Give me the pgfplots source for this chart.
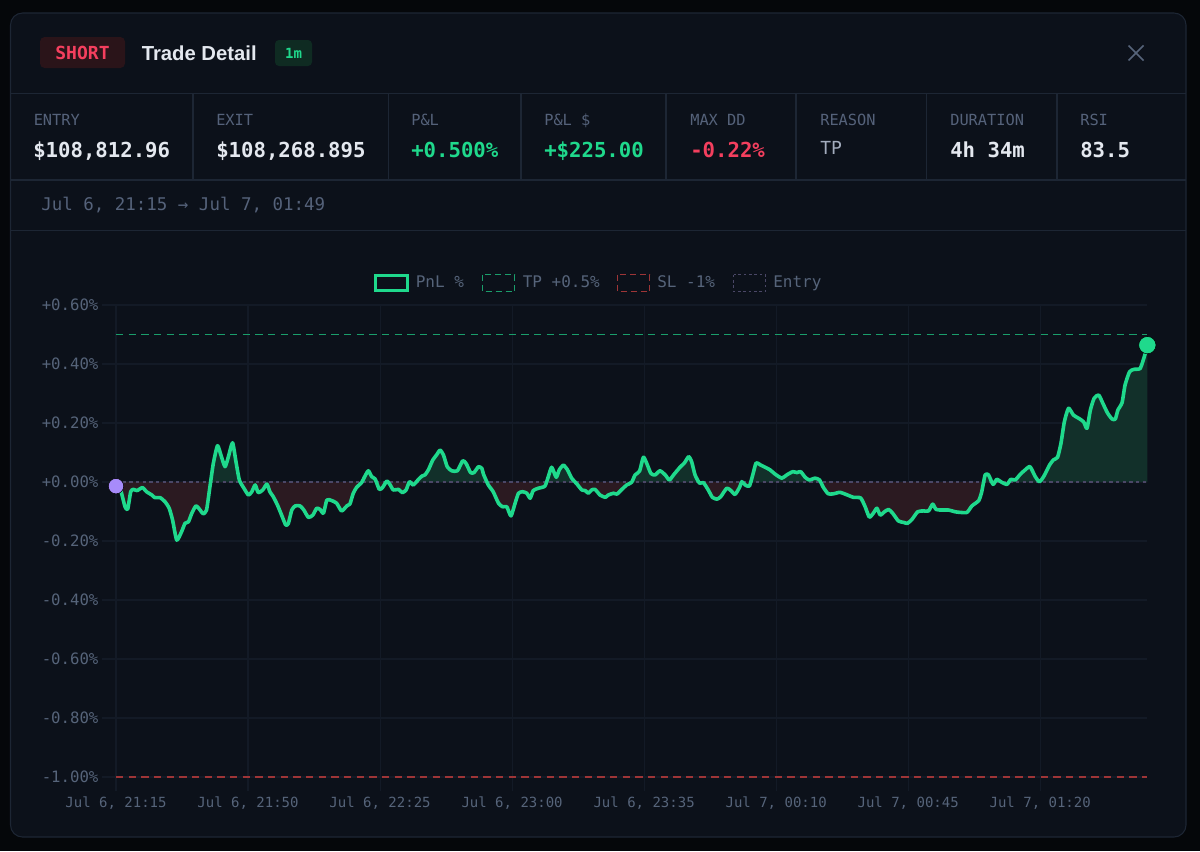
\documentclass[border=0pt]{standalone}
\usepackage{fontspec}
\setmainfont{Liberation Sans}
\setmonofont{DejaVu Sans Mono}
\usepackage{pgfplots}
\pgfplotsset{compat=1.18}
\usepackage{pgfplotstable}

\definecolor{pagebg}{HTML}{05070A}
\definecolor{cardbg}{HTML}{0C111A}
\definecolor{cardline}{HTML}{1D2634}
\definecolor{gridc}{HTML}{131A26}
\definecolor{mutetxt}{HTML}{56647A}
\definecolor{labeltxt}{HTML}{55627A}
\definecolor{valtxt}{HTML}{E4E8EF}
\definecolor{reasontxt}{HTML}{A3ACBD}
\definecolor{upgreen}{HTML}{1FD98C}
\definecolor{downred}{HTML}{F43F5E}
\definecolor{tpgreen}{HTML}{1A9E6B}
\definecolor{slred}{HTML}{9E3537}
\definecolor{entryc}{HTML}{4A4766}
\definecolor{fillup}{HTML}{12302A}
\definecolor{filldown}{HTML}{2B1A21}
\definecolor{entrydot}{HTML}{A78BFA}
\definecolor{badgered}{HTML}{2A1419}
\definecolor{badgegreen}{HTML}{0F2B22}

% minutes since entry, PnL in %
\pgfplotstableread{
m v
0 -0.014
1.2 -0.027
2.4 -0.084
3.1 -0.092
3.9 -0.033
4.6 -0.025
5.6 -0.029
7.0 -0.019
8.1 -0.033
9.5 -0.044
10.3 -0.053
11.7 -0.053
13.0 -0.067
14.1 -0.089
15.0 -0.129
16.1 -0.197
17.4 -0.168
18.3 -0.140
19.2 -0.135
20.1 -0.106
21.2 -0.081
22.3 -0.095
23.1 -0.108
24.0 -0.095
24.9 -0.016
25.8 0.063
26.9 0.123
27.8 0.092
28.9 0.052
29.8 0.086
30.9 0.133
31.8 0.069
32.7 0.007
33.9 -0.021
35.1 -0.044
36.0 -0.033
36.9 -0.010
37.7 -0.036
38.9 -0.027
40.0 -0.007
40.8 -0.033
41.7 -0.050
42.8 -0.078
43.9 -0.112
45.0 -0.146
45.7 -0.140
46.6 -0.095
47.5 -0.081
48.8 -0.081
49.8 -0.095
51.0 -0.120
52.2 -0.112
53.2 -0.089
54.1 -0.093
55.0 -0.106
55.9 -0.061
57.2 -0.063
58.5 -0.072
59.8 -0.098
61.2 -0.081
62.0 -0.075
62.9 -0.038
63.8 -0.018
65.1 -0.002
66.0 0.020
66.9 0.038
67.8 0.018
68.7 0.010
69.8 -0.025
70.7 -0.018
71.8 0.003
72.7 -0.010
73.5 -0.027
74.9 -0.025
75.9 -0.036
76.9 -0.027
77.8 0.001
78.8 -0.010
80.2 0.009
81.1 0.020
81.9 0.024
82.8 0.041
84.0 0.075
85.0 0.092
85.9 0.108
86.8 0.092
87.8 0.052
89.0 0.038
90.5 0.038
91.9 0.072
92.8 0.063
94.0 0.032
94.9 0.032
96.1 0.052
97.0 0.046
97.4 0.027
98.7 -0.010
100.0 -0.033
101.4 -0.072
102.5 -0.084
103.6 -0.084
104.7 -0.115
105.8 -0.072
106.7 -0.038
107.8 -0.033
108.9 -0.038
109.8 -0.055
110.6 -0.029
112.0 -0.021
113.7 -0.014
114.6 0.018
115.5 0.050
116.7 0.016
117.5 0.041
118.6 0.057
119.7 0.041
120.8 0.013
122.2 -0.007
123.5 -0.027
124.4 -0.029
125.2 -0.038
126.1 -0.027
127.0 -0.025
128.3 -0.044
129.7 -0.052
130.5 -0.044
131.9 -0.038
132.8 -0.041
134.1 -0.025
135.4 -0.010
136.7 -0.001
137.6 0.024
138.8 0.037
139.8 0.084
140.7 0.063
141.8 0.029
142.9 0.024
144.2 0.038
145.6 0.024
146.7 0.007
147.8 0.024
149.5 0.050
150.7 0.065
151.8 0.086
152.6 0.069
153.5 0.024
154.7 -0.004
155.7 -0.002
157.0 -0.027
158.1 -0.052
159.3 -0.058
160.3 -0.050
161.9 -0.021
163.0 -0.029
164.1 -0.042
165.3 -0.018
165.9 0.001
166.8 -0.010
167.9 -0.014
168.8 0.024
169.7 0.065
170.8 0.058
172.1 0.050
173.4 0.041
174.7 0.027
176.5 0.013
177.8 0.024
179.4 0.035
180.5 0.032
181.5 0.035
182.7 0.016
183.8 0.007
185.3 0.013
186.5 0.007
187.5 -0.018
188.8 -0.040
190.2 -0.040
191.9 -0.035
193.7 -0.043
195.5 -0.052
197.4 -0.054
198.6 -0.084
199.7 -0.119
200.8 -0.105
201.7 -0.089
202.6 -0.112
203.7 -0.101
204.8 -0.093
205.9 -0.106
207.4 -0.132
208.8 -0.137
209.8 -0.140
211.0 -0.127
212.5 -0.101
214.0 -0.098
215.4 -0.098
216.5 -0.075
217.4 -0.093
218.9 -0.095
220.7 -0.095
222.5 -0.101
223.8 -0.103
225.6 -0.103
226.9 -0.081
228.7 -0.063
229.5 -0.033
230.4 0.024
231.3 0.024
232.5 -0.008
233.5 0.009
234.8 -0.001
236.2 -0.008
237.2 0.009
238.4 0.007
239.7 0.026
241.0 0.041
242.3 0.052
243.7 0.018
244.8 0.001
245.9 0.018
247.5 0.058
248.5 0.075
249.6 0.084
250.5 0.131
251.4 0.204
252.5 0.250
253.8 0.227
255.2 0.216
256.5 0.204
257.4 0.182
258.3 0.244
259.3 0.284
260.5 0.295
261.6 0.267
262.8 0.235
264.0 0.214
264.9 0.213
265.6 0.244
266.7 0.269
267.5 0.329
268.7 0.374
269.9 0.382
271.5 0.385
272.6 0.425
273.4 0.464
}\pnltable

\newcommand{\statlabel}[2]{\node[anchor=base west, inner sep=0pt, text=labeltxt,
  font=\ttfamily\fontsize{11.5}{12}\selectfont] at (#1,125.3) {#2};}
\newcommand{\statvalue}[3]{\node[anchor=base west, inner sep=0pt, text=#2,
  font=\ttfamily\bfseries\fontsize{15.5}{17}\selectfont] at (#1,157.3) {#3};}

\begin{document}
\begin{tikzpicture}
\begin{scope}[x=0.75pt, y=-0.75pt]
  \fill[pagebg] (0,0) rectangle (1200,851);
  \useasboundingbox (0,0) rectangle (1200,851);
  % card
  \draw[cardline, fill=cardbg, line width=0.8pt, rounded corners=9pt] (10.5,13) rectangle (1186,837);
  \draw[cardline, line width=0.8pt] (11,93.5) -- (1185.5,93.5) (11,180) -- (1185.5,180) (11,230.5) -- (1185.5,230.5);
  \foreach \sx in {193,388.5,521,666,796,926.5,1057}
    \draw[cardline, line width=0.8pt] (\sx,93.5) -- (\sx,180);
  % header
  \fill[badgered, rounded corners=3.5pt] (40,37) rectangle (125,68);
  \node[text=downred, inner sep=0pt, font=\ttfamily\bfseries\fontsize{13.5}{16}\selectfont] at (82.5,53) {SHORT};
  \node[anchor=base west, inner sep=0pt, text=valtxt, font=\bfseries\fontsize{15.2}{17}\selectfont] at (141.5,60.5) {Trade Detail};
  \fill[badgegreen, rounded corners=3pt] (275,40) rectangle (312,66);
  \node[text=upgreen, inner sep=0pt, font=\ttfamily\bfseries\fontsize{10.5}{12}\selectfont] at (293.5,53) {1m};
  \draw[mutetxt, line width=1.3pt] (1128.5,45.5) -- (1143.5,60.5) (1128.5,60.5) -- (1143.5,45.5);
  % stats row
  \statlabel{33.5}{ENTRY}
  \statlabel{216}{EXIT}
  \statlabel{411}{P\&L}
  \statlabel{544}{P\&L \$}
  \statlabel{690}{MAX DD}
  \statlabel{820}{REASON}
  \statlabel{950}{DURATION}
  \statlabel{1080}{RSI}
  \statvalue{33}{valtxt}{\$108,812.96}
  \statvalue{216}{valtxt}{\$108,268.895}
  \statvalue{411}{upgreen}{+0.500\%}
  \statvalue{544}{upgreen}{+\$225.00}
  \statvalue{690}{downred}{-0.22\%}
  \node[anchor=base west, inner sep=0pt, text=reasontxt, font=\ttfamily\fontsize{13.5}{15}\selectfont] at (820,154) {TP};
  \statvalue{950}{valtxt}{4h 34m}
  \statvalue{1080}{valtxt}{83.5}
  % time range
  \node[anchor=base west, inner sep=0pt, text=labeltxt, font=\ttfamily\fontsize{13.1}{14}\selectfont] at (41,210.5) {Jul 6, 21:15 → Jul 7, 01:49};
  % legend
  \draw[upgreen, line width=2.2pt] (375.5,275.5) rectangle (407.5,290.5);
  \node[anchor=base west, inner sep=0pt, text=mutetxt, font=\ttfamily\fontsize{12}{13}\selectfont] at (415.5,287.3) {PnL \%};
  \draw[tpgreen, line width=1.1pt, dash pattern=on 4.5pt off 3pt] (482.5,274.5) rectangle (514.5,291.5);
  \node[anchor=base west, inner sep=0pt, text=mutetxt, font=\ttfamily\fontsize{12}{13}\selectfont] at (522.5,287.3) {TP +0.5\%};
  \draw[slred, line width=1.1pt, dash pattern=on 4.5pt off 3pt] (617.5,274.5) rectangle (649.5,291.5);
  \node[anchor=base west, inner sep=0pt, text=mutetxt, font=\ttfamily\fontsize{12}{13}\selectfont] at (657,287.3) {SL -1\%};
  \draw[entryc, line width=1pt, dash pattern=on 2pt off 2pt] (733.5,274.5) rectangle (765.5,291.5);
  \node[anchor=base west, inner sep=0pt, text=mutetxt, font=\ttfamily\fontsize{12}{13}\selectfont] at (773,287.3) {Entry};
\end{scope}

\begin{axis}[
  at={(87pt,-228.75pt)}, anchor=north west,
  width=773.5pt, height=354pt, scale only axis,
  xmin=0, xmax=273.4, ymin=-1, ymax=0.6,
  clip=false,
  axis line style={draw=none},
  xtick pos=bottom, ytick pos=left,
  xtick={0,35,70,105,140,175,210,245},
  xticklabels={{Jul 6, 21:15},{Jul 6, 21:50},{Jul 6, 22:25},{Jul 6, 23:00},{Jul 6, 23:35},{Jul 7, 00:10},{Jul 7, 00:45},{Jul 7, 01:20}},
  ytick={-1,-0.8,-0.6,-0.4,-0.2,0,0.2,0.4,0.6},
  yticklabels={-1.00\%,-0.80\%,-0.60\%,-0.40\%,-0.20\%,+0.00\%,+0.20\%,+0.40\%,+0.60\%},
  grid=major,
  major grid style={gridc, line width=0.8pt},
  tick style={gridc, line width=0.8pt},
  tick align=outside,
  major tick length=10.5pt,
  yticklabel style={text=mutetxt, inner sep=0pt, xshift=-2.5pt, font=\ttfamily\fontsize{11.75}{13}\selectfont},
  xticklabel style={text=mutetxt, inner sep=0pt, yshift=-4pt, font=\ttfamily\fontsize{10.5}{12}\selectfont},
]
  % area above the entry level
  \begin{scope}
    \clip (axis cs:0,0) rectangle (axis cs:273.4,0.6);
    \addplot[fill=fillup, draw=none, smooth, tension=0.35] table[x=m, y=v] {\pnltable} \closedcycle;
  \end{scope}
  % area below the entry level
  \begin{scope}
    \clip (axis cs:0,-1) rectangle (axis cs:273.4,0);
    \addplot[fill=filldown, draw=none, smooth, tension=0.35] table[x=m, y=v] {\pnltable} \closedcycle;
  \end{scope}
  \addplot[entryc, line width=1pt, dash pattern=on 2.5pt off 2.5pt] coordinates {(0,0) (273.4,0)};
  \addplot[tpgreen, line width=1.1pt, dash pattern=on 5.5pt off 4pt] coordinates {(0,0.5) (273.4,0.5)};
  \addplot[slred, line width=1.1pt, dash pattern=on 5.5pt off 4pt] coordinates {(0,-1) (273.4,-1)};
  \addplot[upgreen, line width=2.7pt, line join=round, line cap=round, smooth, tension=0.35] table[x=m, y=v] {\pnltable};
  \addplot[only marks, mark=*, mark size=5.8pt, mark options={draw=none, fill=entrydot}] coordinates {(0,-0.014)};
  \addplot[only marks, mark=*, mark size=6.5pt, mark options={draw=none, fill=upgreen}] coordinates {(273.4,0.464)};
\end{axis}
\end{tikzpicture}
\end{document}
